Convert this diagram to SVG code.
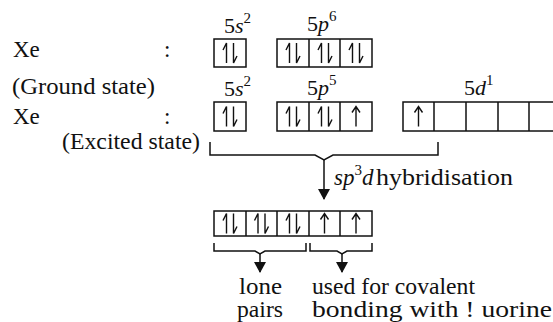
<svg xmlns="http://www.w3.org/2000/svg" width="553" height="322" viewBox="0 0 553 322">
<defs>
<g id="pair" fill="none" stroke="#111" stroke-width="1.4">
<path d="M-3.5 10V-10L-7 -3"/>
<path d="M3.5 -10V10L7 3"/>
</g>
<g id="up" fill="none" stroke="#111" stroke-width="1.4">
<path d="M0 10V-10M-4 -4L0 -10L4 -4"/>
</g>
<marker id="ah" markerWidth="12" markerHeight="12" refX="10" refY="6" orient="auto" markerUnits="userSpaceOnUse">
<path d="M0 0L11 6L0 12Z" fill="#111"/>
</marker>
</defs>

<g id="labels" fill="#111">
<text x="13" y="57" font-family="Liberation Serif" font-size="23">Xe</text>
<text x="164" y="57" font-family="Liberation Serif" font-size="23">:</text>
<text x="12" y="94" font-family="Liberation Serif" font-size="23" textLength="143" lengthAdjust="spacingAndGlyphs">(Ground state)</text>
<text x="13" y="124" font-family="Liberation Serif" font-size="23">Xe</text>
<text x="164" y="124" font-family="Liberation Serif" font-size="23">:</text>
<text x="62" y="149" font-family="Liberation Serif" font-size="23" textLength="138" lengthAdjust="spacingAndGlyphs">(Excited state)</text>
</g>

<g id="ground-5s" fill="none" stroke="#111" stroke-width="1.5">
<text x="224" y="33" font-family="Liberation Serif" font-size="22" fill="#111" stroke="none">5<tspan font-style="italic">s</tspan><tspan font-size="15" dy="-10">2</tspan></text>
<rect x="214" y="39" width="32" height="28"/>
<use href="#pair" x="230" y="53"/>
</g>
<g id="ground-5p" fill="none" stroke="#111" stroke-width="1.5">
<text x="307" y="31" font-family="Liberation Serif" font-size="22" fill="#111" stroke="none">5<tspan font-style="italic">p</tspan><tspan font-size="15" dy="-10">6</tspan></text>
<rect x="277" y="39" width="95" height="28"/>
<path d="M309 39V67M340 39V67"/>
<use href="#pair" x="293" y="53"/>
<use href="#pair" x="325" y="53"/>
<use href="#pair" x="356" y="53"/>
</g>

<g id="excited-5s" fill="none" stroke="#111" stroke-width="1.5">
<text x="224" y="96" font-family="Liberation Serif" font-size="22" fill="#111" stroke="none">5<tspan font-style="italic">s</tspan><tspan font-size="15" dy="-10">2</tspan></text>
<rect x="214" y="102" width="32" height="29"/>
<use href="#pair" x="230" y="116.5"/>
</g>
<g id="excited-5p" fill="none" stroke="#111" stroke-width="1.5">
<text x="307" y="95" font-family="Liberation Serif" font-size="22" fill="#111" stroke="none">5<tspan font-style="italic">p</tspan><tspan font-size="15" dy="-10">5</tspan></text>
<rect x="277" y="102" width="95" height="29"/>
<path d="M309 102V131M340 102V131"/>
<use href="#pair" x="293" y="116.5"/>
<use href="#pair" x="325" y="116.5"/>
<use href="#up" x="356" y="116.5"/>
</g>
<g id="excited-5d" fill="none" stroke="#111" stroke-width="1.5">
<text x="464" y="95" font-family="Liberation Serif" font-size="22" fill="#111" stroke="none">5<tspan font-style="italic">d</tspan><tspan font-size="15" dy="-10">1</tspan></text>
<rect x="403" y="102" width="158" height="29"/>
<path d="M434 102V131M466 102V131M498 102V131M529 102V131"/>
<use href="#up" x="418.5" y="116.5"/>
</g>

<g id="hybrid" fill="none" stroke="#111" stroke-width="1.5">
<rect x="214" y="211" width="158" height="25"/>
<path d="M246 211V236M277 211V236M309 211V236M340 211V236"/>
<use href="#pair" x="230" y="223.5"/>
<use href="#pair" x="261.5" y="223.5"/>
<use href="#pair" x="293" y="223.5"/>
<use href="#up" x="324.5" y="223.5"/>
<use href="#up" x="356" y="223.5"/>
</g>

<g id="connectors" fill="none" stroke="#111" stroke-width="1.5">
<path d="M210 142V155H315L324 160L333 155H438V142"/>
<path d="M324 160V199" marker-end="url(#ah)"/>
<path d="M214 243V251H255L260 254L265 251H306V243"/>
<path d="M260 254V272" marker-end="url(#ah)"/>
<path d="M310 243V251H337L342 254L347 251H372V243"/>
<path d="M342 254V272" marker-end="url(#ah)"/>
</g>

<g id="texts" fill="#111">
<text x="334" y="185" font-family="Liberation Serif" font-size="23"><tspan font-style="italic">sp</tspan><tspan font-size="15" dy="-10">3</tspan><tspan font-style="italic" dy="10">d</tspan></text>
<text x="376" y="185" font-family="Liberation Serif" font-size="23" textLength="137" lengthAdjust="spacingAndGlyphs">hybridisation</text>
<text x="239" y="294" font-family="Liberation Serif" font-size="23" textLength="43" lengthAdjust="spacingAndGlyphs">lone</text>
<text x="237" y="317" font-family="Liberation Serif" font-size="23" textLength="46" lengthAdjust="spacingAndGlyphs">pairs</text>
<text x="312" y="294" font-family="Liberation Serif" font-size="23" textLength="163" lengthAdjust="spacingAndGlyphs">used for covalent</text>
<text x="312" y="317" font-family="Liberation Serif" font-size="23" textLength="240" lengthAdjust="spacingAndGlyphs">bonding with ! uorine</text>
</g>
</svg>
